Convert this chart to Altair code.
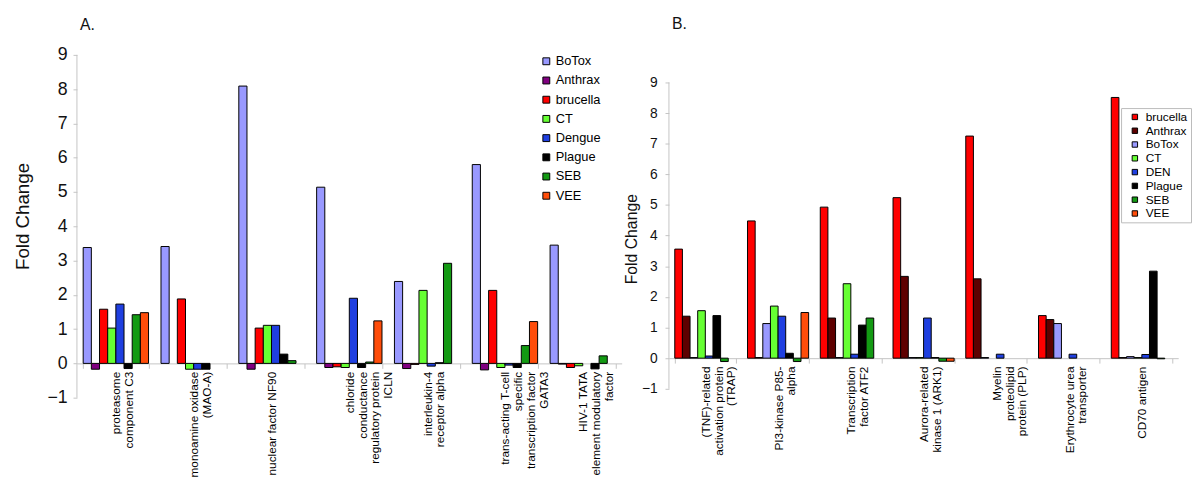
import altair as alt
import pandas as pd

FONT = "Liberation Sans"

# ---------------- Panel A data ----------------
genes_a = [
    "proteasome|component C3",
    "monoamine oxidase|(MAO-A)",
    "nuclear factor NF90",
    "chloride|conductance|regulatory protein|ICLN",
    "interleukin-4|receptor alpha",
    "trans-acting T-cell|specific|transcription factor|GATA3",
    "HIV-1 TATA|element modulatory|factor",
]
series_a = ["BoTox", "Anthrax", "brucella", "CT", "Dengue", "Plague", "SEB", "VEE"]
colors_a = ["#9999FF", "#800080", "#FF0000", "#66FF33", "#1F3FE0", "#000000", "#139A13", "#FF4D0A"]
botox_a = [3.38, 3.41, 8.09, 5.14, 2.39, 5.80, 3.45]
anthrax_a = [-0.17, None, -0.17, -0.12, -0.15, -0.19, -0.02]
brucella_a = [1.58, 1.88, 1.03, -0.10, -0.03, 2.13, -0.12]
ct_a = [1.03, -0.17, 1.11, -0.12, 2.13, -0.12, -0.07]
dengue_a = [1.73, -0.17, 1.11, 1.90, -0.08, -0.05, None]
plague_a = [-0.15, -0.17, 0.27, -0.12, 0.02, -0.12, -0.16]
seb_a = [1.42, None, 0.08, 0.04, 2.92, 0.52, 0.22]
vee_a = [1.48, None, None, 1.24, None, 1.22, None]

# ---------------- Panel B data ----------------
genes_b = [
    "(TNF)-related|activation protein|(TRAP)",
    "PI3-kinase P85-|alpha",
    "Transcription|factor ATF2",
    "Aurora-related|kinase 1 (ARK1)",
    "Myelin|proteolipid|protein (PLP)",
    "Erythrocyte urea|transporter",
    "CD70 antigen",
]
series_b = ["brucella", "Anthrax", "BoTox", "CT", "DEN", "Plague", "SEB", "VEE"]
colors_b = ["#FF0000", "#5E0000", "#9999FF", "#66FF33", "#1F3FE0", "#000000", "#139A13", "#FF4D0A"]
brucella_b = [3.56, 4.48, 4.93, 5.24, 7.25, 1.39, 8.51]
anthrax_b = [1.37, 0.02, 1.31, 2.67, 2.59, 1.26, 0.02]
botox_b = [0.02, 1.13, 0.02, 0.02, 0.02, 1.13, 0.05]
ct_b = [1.55, 1.70, 2.43, 0.02, None, None, 0.02]
den_b = [0.07, 1.37, 0.13, 1.31, 0.13, 0.13, 0.12]
plague_b = [1.39, 0.16, 1.08, 0.02, None, None, 2.84]
seb_b = [-0.11, -0.11, 1.31, -0.10, None, None, -0.02]
vee_b = [None, 1.49, None, -0.10, None, None, None]

y_ticks = [-1, 0, 1, 2, 3, 4, 5, 6, 7, 8, 9]


def make_df(genes, series, cols):
    rows = []
    for s, vals in zip(series, cols):
        for g, v in zip(genes, vals):
            if v is not None:
                rows.append({"gene": g, "series": s, "value": v})
    return pd.DataFrame(rows)


df_a = make_df(genes_a, series_a,
               [botox_a, anthrax_a, brucella_a, ct_a, dengue_a, plague_a, seb_a, vee_a])
df_b = make_df(genes_b, series_b,
               [brucella_b, anthrax_b, botox_b, ct_b, den_b, plague_b, seb_b, vee_b])

GRAY = "#c4c4c4"


def panel(df, genes, series, colors, W, H, ymax, title, title_offset, ytitle_at,
          ylab_size, ytitle_size, ytitle_pad, ylab_pad, legend):
    unit = H * 1.0 / (ymax + 1.0)
    zero_off = -unit
    yscale = alt.Scale(domain=[-1, ymax], nice=False, zero=False)

    def yaxis():
        return alt.Axis(values=y_ticks, title="Fold Change", grid=False, domain=False,
                        labelOverlap=False, labelFontSize=ylab_size,
                        titleFontSize=ytitle_size, titleFontWeight="normal",
                        titlePadding=ytitle_pad, titleY=(ymax - ytitle_at) * unit,
                        labelPadding=ylab_pad, tickSize=4, tickColor=GRAY,
                        labelColor="#111", titleColor="#111")

    bars = alt.Chart(df).mark_bar(stroke="black", strokeWidth=1).encode(
        x=alt.X("gene:N", sort=genes,
                scale=alt.Scale(domain=genes, paddingInner=0.16, paddingOuter=0.08),
                axis=alt.Axis(title=None, labelExpr="split(datum.label, '|')",
                              labelAngle=270, labelAlign="right", labelBaseline="middle",
                              labelFontSize=12, labelLineHeight=13, labelPadding=3,
                              labelOverlap=False, labelLimit=300,
                              tickBand="extent", tickSize=5, tickColor=GRAY,
                              domainColor=GRAY, offset=zero_off, labelColor="black")),
        xOffset=alt.XOffset("series:N", sort=series,
                            scale=alt.Scale(domain=series, paddingInner=0, paddingOuter=0)),
        y=alt.Y("value:Q", scale=yscale, axis=yaxis()),
        color=alt.Color("series:N", sort=series,
                        scale=alt.Scale(domain=series, range=colors), legend=legend),
    )
    axis_line = alt.Chart(pd.DataFrame({"value": [y_ticks[0]], "hi": [y_ticks[-1]]})).mark_rule(
        color=GRAY, strokeWidth=1
    ).encode(
        x=alt.value(0),
        y=alt.Y("value:Q", scale=yscale, axis=yaxis()),
        y2="hi:Q",
    )
    return alt.layer(bars, axis_line).properties(
        width=W, height=H,
        title=alt.TitleParams(title, anchor="start", frame="group", offset=title_offset,
                              fontSize=16, fontWeight="normal", dx=3, color="#111"),
    )


legend_a = alt.Legend(orient="none", legendX=470, legendY=0, title=None,
                      symbolType="square", symbolSize=49, symbolStrokeColor="black",
                      symbolStrokeWidth=1, labelFontSize=13, rowPadding=5.5,
                      labelOffset=3, padding=0, labelColor="black")
legend_b = alt.Legend(orient="none", legendX=459, legendY=54, title=None,
                      symbolType="square", symbolSize=30, symbolStrokeColor="black",
                      symbolStrokeWidth=1, labelFontSize=12, rowPadding=2,
                      labelOffset=5, symbolOffset=5, padding=3,
                      strokeColor="#bbbbbb", fillColor="white", labelColor="black")

# A: plot spans 9 -> -1 over 348 px; B: 31.1 px per unit, extra headroom above 9
chart_a = panel(df_a, genes_a, series_a, colors_a, 553, 348, 9, "A.", 13, 4.3,
                18, 19, 15, 6, legend_a)
chart_b = panel(df_b, genes_b, series_b, colors_b, 517, 339, 9.9, "B.", 23, 3.9,
                14, 16, 2, 8, legend_b)

chart = alt.hconcat(chart_a, chart_b, spacing=2).resolve_scale(
    color="independent", x="independent", y="independent", xOffset="independent"
).properties(
    padding={"left": 5, "top": 5, "right": 0, "bottom": 0}
).configure_view(stroke=None).configure_axis(
    labelFont=FONT, titleFont=FONT
).configure_axisY(labelOverlap=False).configure_legend(labelFont=FONT).configure_title(font=FONT)

chart.save("out.html", embed_options={"renderer": "svg", "actions": False})
